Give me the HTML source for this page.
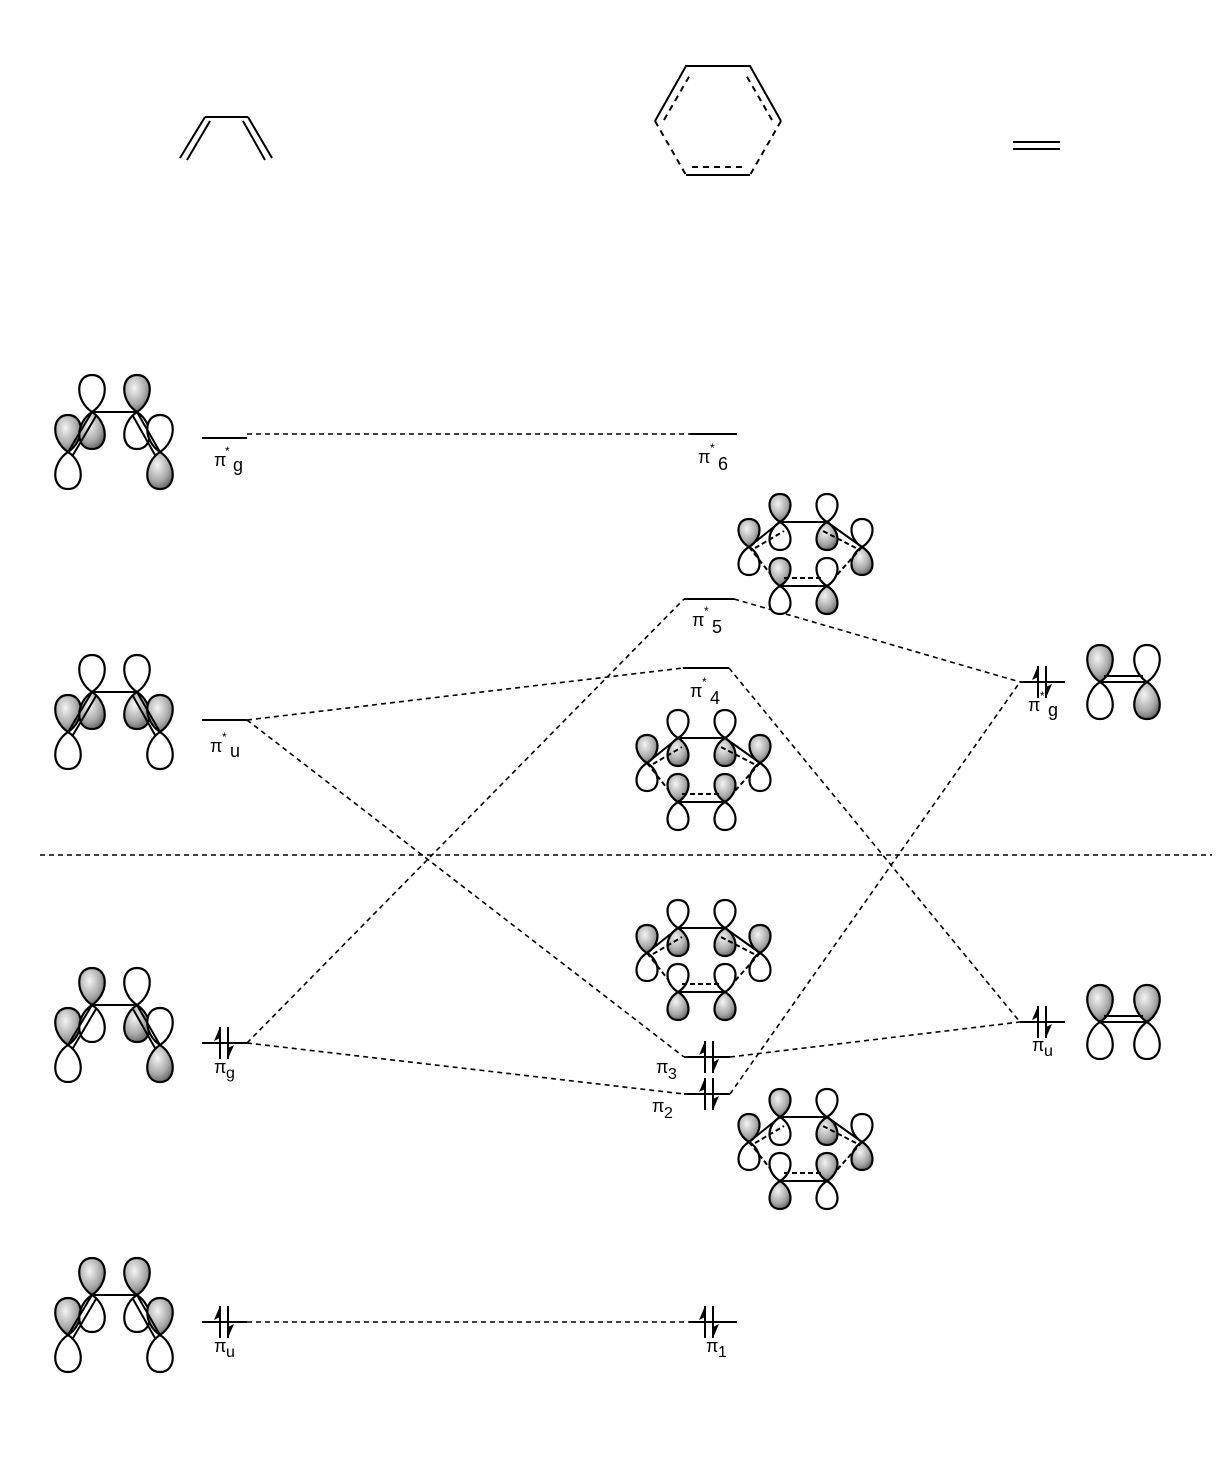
<!DOCTYPE html>
<html><head><meta charset="utf-8"><style>
html,body{margin:0;padding:0;background:#fff;}
svg{display:block;}
text{font-family:"Liberation Sans",sans-serif;fill:#000;}
</style></head><body>
<svg id="s" width="1222" height="1472" viewBox="0 0 1222 1472" xmlns="http://www.w3.org/2000/svg">
<defs>
<radialGradient id="g" cx="0.4" cy="0.35" r="0.75">
<stop offset="0" stop-color="#f4f4f4"/><stop offset="0.6" stop-color="#a8a8a8"/><stop offset="1" stop-color="#555"/>
</radialGradient>
</defs>
<g stroke="#000" stroke-width="2" fill="none">
<line x1="180" y1="158" x2="205" y2="117"/><line x1="187" y1="160" x2="210" y2="121"/>
<line x1="205" y1="117" x2="248" y2="117"/>
<line x1="248" y1="117" x2="272" y2="158"/><line x1="243" y1="121" x2="265" y2="160"/>
<polyline points="655,121 686,66 750,66 781,121"/>
<line x1="686" y1="175" x2="750" y2="175"/>
<g stroke-dasharray="6,5">
<line x1="664" y1="120" x2="690" y2="75"/><line x1="772" y1="120" x2="746" y2="75"/>
<line x1="655" y1="121" x2="686" y2="175"/><line x1="781" y1="121" x2="750" y2="175"/>
<line x1="692" y1="167" x2="744" y2="167"/>
</g>
<line x1="1013" y1="142" x2="1060" y2="142"/><line x1="1013" y1="149" x2="1060" y2="149"/>
<line x1="202" y1="438" x2="247" y2="438"/>
<line x1="202" y1="720" x2="247" y2="720"/>
<line x1="202" y1="1043" x2="247" y2="1043"/>
<line x1="202" y1="1322" x2="247" y2="1322"/>
<line x1="690" y1="434" x2="737" y2="434"/>
<line x1="684" y1="599" x2="734" y2="599"/>
<line x1="683" y1="668" x2="729" y2="668"/>
<line x1="684" y1="1057" x2="730" y2="1057"/>
<line x1="684" y1="1094" x2="730" y2="1094"/>
<line x1="689" y1="1322" x2="737" y2="1322"/>
<line x1="1020" y1="682" x2="1065" y2="682"/>
<line x1="1020" y1="1022" x2="1065" y2="1022"/>
<g stroke-dasharray="5,4" stroke-width="1.6">
<line x1="247" y1="434" x2="690" y2="434"/>
<line x1="247" y1="720" x2="683" y2="668"/>
<line x1="247" y1="720" x2="684" y2="1057"/>
<line x1="247" y1="1043" x2="684" y2="599"/>
<line x1="247" y1="1043" x2="684" y2="1094"/>
<line x1="734" y1="599" x2="1020" y2="682"/>
<line x1="729" y1="668" x2="1020" y2="1022"/>
<line x1="730" y1="1057" x2="1020" y2="1022"/>
<line x1="730" y1="1094" x2="1020" y2="682"/>
<line x1="247" y1="1322" x2="689" y2="1322"/>
<line x1="40" y1="855" x2="1212" y2="855"/>
</g>
</g>
<g id="mol"></g>
<g font-size="18">
<text x="214" y="466">π</text><text x="225" y="455" font-size="12">*</text><text x="233" y="471">g</text>
<text x="210" y="752">π</text><text x="222" y="741" font-size="12">*</text><text x="230" y="757">u</text>
<text x="214" y="1073">π</text><text x="226" y="1078" font-size="16">g</text>
<text x="214" y="1352">π</text><text x="226" y="1357" font-size="16">u</text>
<text x="698" y="463">π</text><text x="710" y="452" font-size="12">*</text><text x="718" y="470">6</text>
<text x="692" y="626">π</text><text x="704" y="615" font-size="12">*</text><text x="712" y="633">5</text>
<text x="690" y="697">π</text><text x="702" y="686" font-size="12">*</text><text x="710" y="704">4</text>
<text x="656" y="1073">π</text><text x="668" y="1079" font-size="16">3</text>
<text x="652" y="1112">π</text><text x="664" y="1118" font-size="16">2</text>
<text x="706" y="1352">π</text><text x="718" y="1357" font-size="16">1</text>
<text x="1028" y="711">π</text><text x="1040" y="700" font-size="12">*</text><text x="1048" y="716">g</text>
<text x="1032" y="1051">π</text><text x="1044" y="1056" font-size="16">u</text>
</g>
</svg>
<script>
var NS="http://www.w3.org/2000/svg",M=document.getElementById("mol");
function el(t,a){var e=document.createElementNS(NS,t);for(var k in a)e.setAttribute(k,a[k]);M.appendChild(e);return e;}
function lobe(x,y,dir,sh,H,W){var h=H*dir;
el("path",{d:"M"+x+","+y+" C"+(x-W)+","+(y-h*0.3)+" "+(x-W)+","+(y-h)+" "+x+","+(y-h)+" C"+(x+W)+","+(y-h)+" "+(x+W)+","+(y-h*0.3)+" "+x+","+y+"Z",fill:sh?"url(#g)":"#fff",stroke:"#000","stroke-width":2.2});}
function atom(x,y,up,H,W){H=H||37;W=W||17;lobe(x,y,1,up,H,W);lobe(x,y,-1,!up,H,W);}
function line(a,b,c,d,da){var o={x1:a,y1:b,x2:c,y2:d,stroke:"#000","stroke-width":2};if(da)o["stroke-dasharray"]="5,3";el("line",o);}
function buta(y,p){var c=[[68,y+40],[92,y],[137,y],[160,y+40]];
for(var i=0;i<4;i++)atom(c[i][0],c[i][1],p[i]);
line(92,y,137,y);line(68,y+40,92,y);line(73,y+43,96,y+4);line(137,y,160,y+40);line(133,y+4,155,y+43);}
buta(412,[1,0,1,0]);buta(692,[1,0,0,1]);buta(1005,[1,1,0,0]);buta(1295,[1,1,1,1]);
function benz(ox,oy,p){var a=[[ox+31,oy],[ox+78,oy],[ox,oy+25],[ox+113,oy+25],[ox+31,oy+64],[ox+78,oy+64]];
for(var i=0;i<4;i++)atom(a[i][0],a[i][1],p[i],28,14);
line(a[0][0],oy,a[1][0],oy);line(a[2][0],a[2][1],a[0][0],oy);line(a[1][0],oy,a[3][0],a[3][1]);
line(a[2][0]+6,a[2][1]+1,a[0][0]+4,oy+9,1);line(a[3][0]-6,a[3][1]+1,a[1][0]-4,oy+9,1);
line(a[2][0],a[2][1],a[4][0],oy+64,1);line(a[3][0],a[3][1],a[5][0],oy+64,1);
for(var i=4;i<6;i++)atom(a[i][0],a[i][1],p[i],28,14);
line(a[4][0],oy+64,a[5][0],oy+64);
line(a[4][0]+4,oy+56,a[5][0]-4,oy+56,1);}
benz(749,522,[1,0,1,0,1,0]);
benz(647,738,[0,0,1,1,1,1]);
benz(647,928,[0,0,1,1,0,0]);
benz(749,1117,[1,0,1,0,0,1]);
function eth(y,p){atom(1100,y,p[0]);atom(1147,y,p[1]);line(1100,y,1147,y);line(1104,y-6,1143,y-6);}
eth(682,[1,0]);eth(1022,[1,1]);
function pair(x,y){line(x-4,y+16,x-4,y-16);el("polygon",{points:(x-4)+","+(y-16)+" "+(x-10)+","+(y-2)+" "+(x-4)+","+(y-5),fill:"#000"});
line(x+4,y-16,x+4,y+16);el("polygon",{points:(x+4)+","+(y+16)+" "+(x+10)+","+(y+2)+" "+(x+4)+","+(y+5),fill:"#000"});}
pair(224,1043);pair(224,1322);pair(709,1057);pair(709,1094);pair(709,1322);pair(1042,682);pair(1042,1022);
</script>
</body></html>
